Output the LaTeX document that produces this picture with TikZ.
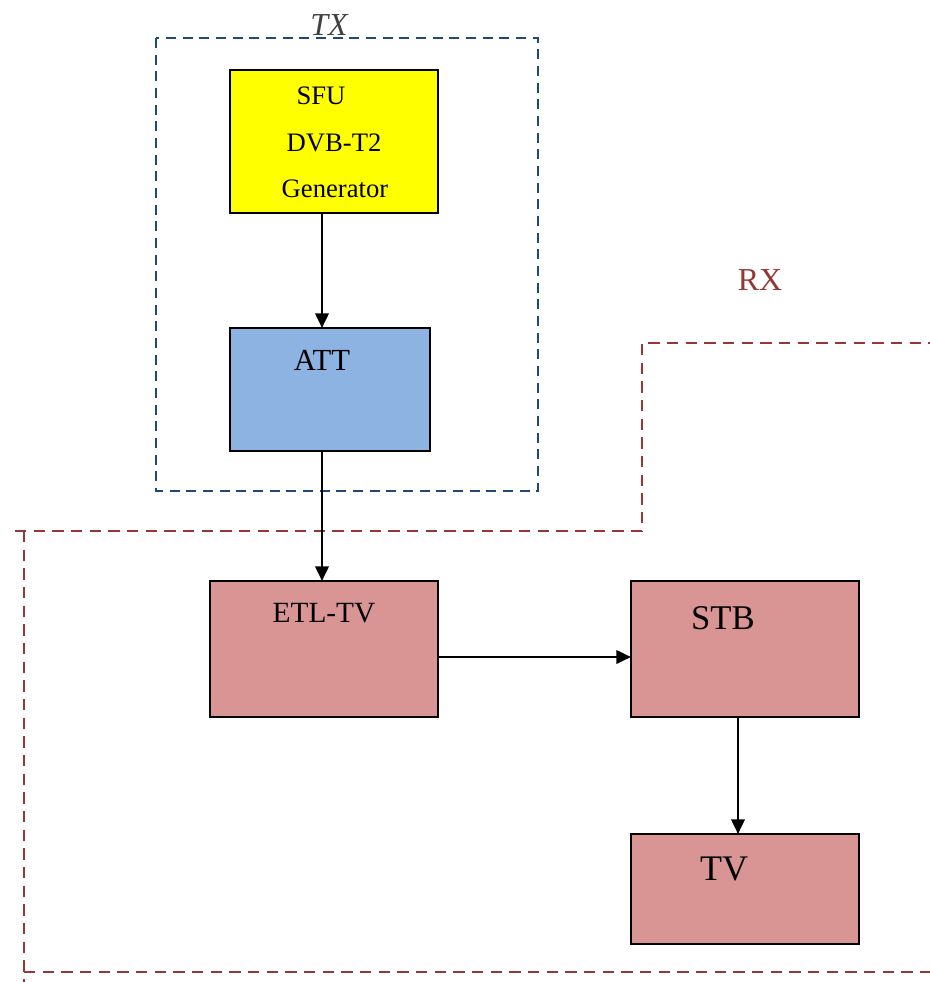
\documentclass[tikz,border=0pt]{standalone}
\usepackage{fontspec}
\setmainfont{Liberation Serif}
\usetikzlibrary{arrows.meta}
\definecolor{txblue}{HTML}{1F497D}
\definecolor{rxred}{HTML}{953735}
\definecolor{attblue}{HTML}{8DB3E2}
\definecolor{rxpink}{HTML}{D99594}
\definecolor{txgrey}{HTML}{404040}
\definecolor{sfuyellow}{HTML}{FFFF00}
\tikzset{
  blockbox/.style={draw=black, line width=1.8pt, inner sep=0pt, outer sep=0pt},
  arr/.style={line width=2pt, -{Triangle[length=11pt,width=10pt]}},
  txline/.style={draw=txblue, line width=2.2pt, dash pattern=on 7.5pt off 5pt},
  rxline/.style={draw=rxred, line width=2.1pt, dash pattern=on 8.5pt off 5.5pt},
  lbl/.style={anchor=base, inner sep=0pt}
}
\begin{document}
\begin{tikzpicture}[x=0.75pt,y=-0.75pt]
\useasboundingbox (0,0) rectangle (930,982);
% TX group
\draw[txline] (156,38) rectangle (538,491);
\node[lbl, text=txgrey, font=\fontsize{24}{28}\selectfont\itshape] (txlabel) at (329,35) {TX};
% RX group
\draw[rxline] (15,531) -- (642,531) -- (642,343) -- (930,343);
\draw[rxline] (24,531) -- (24,982);
\draw[rxline] (24,972) -- (930,972);
\node[lbl, text=rxred, font=\fontsize{24}{28}\selectfont] (rxlabel) at (760,290) {RX};
% Blocks
\node[blockbox, fill=sfuyellow, minimum width=156pt, minimum height=107.25pt] (sfu) at (334,141.5) {};
\node[lbl, font=\fontsize{20}{24}\selectfont] (sfu1) at (321,104) {SFU};
\node[lbl, font=\fontsize{20}{24}\selectfont] (sfu2) at (334,151) {DVB-T2};
\node[lbl, font=\fontsize{20}{24}\selectfont] (sfu3) at (335,197) {Generator};
\node[blockbox, fill=attblue, minimum width=150pt, minimum height=92.25pt] (att) at (330,389.5) {};
\node[lbl, font=\fontsize{23}{27}\selectfont] (atttext) at (322,370) {ATT};
\node[blockbox, fill=rxpink, minimum width=171pt, minimum height=102pt] (etl) at (324,649) {};
\node[lbl, font=\fontsize{22}{26}\selectfont] (etltext) at (324,622) {ETL-TV};
\node[blockbox, fill=rxpink, minimum width=171pt, minimum height=102pt] (stb) at (745,649) {};
\node[lbl, font=\fontsize{26}{30}\selectfont] (stbtext) at (723,629) {STB};
\node[blockbox, fill=rxpink, minimum width=171pt, minimum height=82.5pt] (tv) at (745,889) {};
\node[lbl, font=\fontsize{27}{31}\selectfont] (tvtext) at (724,880) {TV};
% Connectors
\draw[arr] ([xshift=-9pt]sfu.south) -- ([xshift=-6pt]att.north);
\draw[arr] ([xshift=-6pt]att.south) -- ([xshift=-1.5pt]etl.north);
\draw[arr] ([yshift=-6pt]etl.east) -- ([yshift=-6pt]stb.west);
\draw[arr] ([xshift=-5.25pt]stb.south) -- ([xshift=-5.25pt]tv.north);
\end{tikzpicture}
\end{document}
